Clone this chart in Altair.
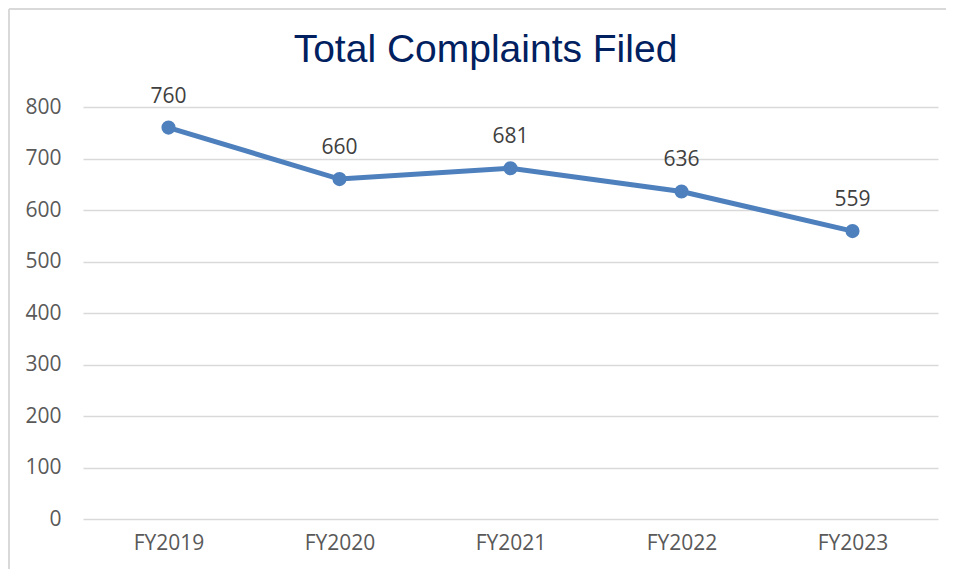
import altair as alt
import pandas as pd

years = ["FY2019", "FY2020", "FY2021", "FY2022", "FY2023"]
complaints = [760, 660, 681, 636, 559]
y_ticks = [0, 100, 200, 300, 400, 500, 600, 700, 800]
title_text = "Total Complaints Filed"

df = pd.DataFrame({"year": years, "value": complaints})

W, H = 855, 412
PL, PT = 75, 99

x_enc = alt.X("year:N", sort=years, title=None,
              scale=alt.Scale(paddingInner=0, paddingOuter=0.5),
              axis=alt.Axis(labelAngle=0, labelFont="Open Sans", labelFontSize=21,
                            labelColor="#595959", labelPadding=13, ticks=False,
                            domain=False, grid=False))
y_enc = alt.Y("value:Q", title=None,
              scale=alt.Scale(domain=[0, 800], nice=False),
              axis=alt.Axis(values=y_ticks, labelFont="Open Sans", labelFontSize=21,
                            labelColor="#595959", labelPadding=22, ticks=False,
                            domain=False, gridColor="#d9d9d9", gridWidth=1.5))

base = alt.Chart(df)

line = base.mark_line(color="#4e80bd", strokeWidth=5).encode(x=x_enc, y=y_enc)
pts = base.mark_circle(color="#4e80bd", size=200, opacity=1).encode(x=x_enc, y=y_enc)
labels = base.mark_text(font="Open Sans", fontSize=21, color="#404040", dy=-25,
                        baseline="alphabetic").encode(x=x_enc, y=y_enc, text="value:Q")

deco = alt.Chart(pd.DataFrame({"t": [title_text]}))
frame_left = deco.mark_rule(color="#d9d9d9", strokeWidth=2).encode(
    x=alt.value(-PL + 1), y=alt.value(-PT + 1), y2=alt.value(H + 60))
frame_top = deco.mark_rule(color="#d9d9d9", strokeWidth=2).encode(
    x=alt.value(-PL + 1), x2=alt.value(W + 8), y=alt.value(-PT + 1))
title = deco.mark_text(font="Liberation Sans", fontSize=39, color="#002060",
                       align="center", baseline="alphabetic").encode(
    x=alt.value(W / 2 - 25), y=alt.value(-45), text="t:N")

chart = alt.layer(frame_left, frame_top, line, pts, labels, title).properties(
    width=W, height=H,
    autosize=alt.AutoSizeParams(type="none"),
    padding={"left": PL, "top": PT, "right": 8, "bottom": 50},
).configure_view(stroke=None)

chart.save("out.html", embed_options={"renderer": "svg", "actions": False})
